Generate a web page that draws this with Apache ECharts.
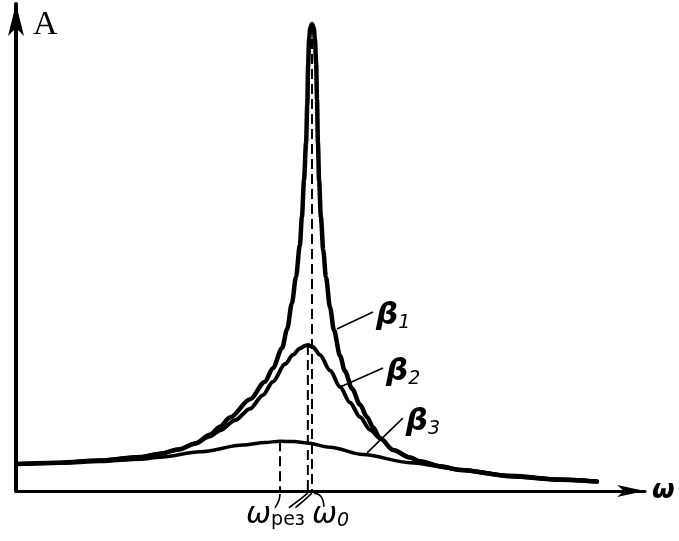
<!DOCTYPE html>
<html><head><meta charset="utf-8">
<script src="https://cdn.jsdelivr.net/npm/echarts@6/dist/echarts.min.js"></script>
<style>html,body{margin:0;padding:0;background:#fff}#c{width:679px;height:541px}</style>
</head><body><div id="c"></div>
<script>
// omega in units of omega0 ; A in units of static amplitude A(0)
const beta1Omega = [0,0.149,0.284,0.419,0.486,0.554,0.605,0.655,0.689,0.723,0.791,0.841,0.868,0.899,0.916,0.932,0.946,0.959,0.966,0.973,0.980,0.984,0.987,0.990,0.994,1.000,1.006,1.010,1.014,1.017,1.020,1.024,1.030,1.038,1.047,1.061,1.074,1.095,1.111,1.135,1.162,1.186,1.206,1.230,1.274,1.331,1.365,1.432,1.500,1.669,1.838,1.963];
const beta1A     = [1.00,1.05,1.13,1.26,1.38,1.55,1.76,2.08,2.38,2.72,3.40,4.05,4.55,5.30,6.00,6.95,7.93,9.11,10.15,11.52,12.90,14.30,15.80,16.70,17.15,17.30,17.15,16.70,15.85,14.48,12.90,11.50,10.15,8.93,7.93,6.80,5.96,5.00,4.45,3.80,3.20,2.74,2.36,1.95,1.52,1.24,1.10,0.92,0.78,0.55,0.42,0.35];
const beta2Omega = [0,0.149,0.284,0.419,0.486,0.554,0.605,0.655,0.689,0.740,0.791,0.834,0.868,0.909,0.936,0.959,0.976,0.986,1.003,1.027,1.061,1.095,1.128,1.162,1.196,1.230,1.274,1.331,1.365,1.432,1.500,1.669,1.838,1.963];
const beta2A     = [1.00,1.05,1.13,1.26,1.38,1.55,1.76,2.02,2.24,2.62,3.05,3.55,4.05,4.70,5.05,5.28,5.38,5.41,5.33,5.04,4.46,3.85,3.28,2.74,2.27,1.95,1.52,1.24,1.10,0.92,0.78,0.55,0.42,0.35];
const beta3Omega = [0,0.149,0.284,0.419,0.486,0.622,0.767,0.841,0.892,0.940,0.983,1.061,1.172,1.331,1.500,1.669,1.838,1.963];
const beta3A     = [1.00,1.03,1.09,1.18,1.25,1.45,1.70,1.80,1.84,1.83,1.78,1.62,1.35,1.05,0.80,0.58,0.44,0.35];
// resonance markers (dashed verticals): omega, top amplitude
const markOmega = [0.892, 0.986, 1.000];
const markTopA  = [1.84, 5.41, 17.30];
// labels of curves
const curveNames = ['β1','β2','β3'];
const labelSub   = ['1','2','3'];
// leader lines to curve labels: [omega, A] start and end
const leaderB1 = [[1.084,6.00],[1.206,6.63]];
const leaderB2 = [[1.095,3.85],[1.240,4.56]];
const leaderB3 = [[1.186,1.41],[1.307,2.70]];
// leader lines below the axis to ω_рез and ω0
const leaderRes  = [[0.892,-0.11],[0.888,-0.35],[0.875,-0.62]];
const leaderMidA = [[0.986,-0.08],[0.955,-0.35],[0.922,-0.62]];
const leaderMidB = [[1.000,-0.08],[0.975,-0.33],[0.944,-0.62]];
const leaderW0   = [[1.007,-0.08],[1.030,-0.20],[1.040,-0.58]];
const axisNames = {y:'A', x:'ω', res:'ω', resSub:'рез', zero:'ω', zeroSub:'0'};

const zip = (a,b)=>a.map((v,i)=>[v,b[i]]);
const black = '#000';
const chart = echarts.init(document.getElementById('c'));
const curve = (name, data, w) => ({
  type:'line', name, data, showSymbol:false, symbol:'none', smooth:0.3, smoothMonotone:'x',
  lineStyle:{color:black,width:w,cap:'round',join:'round'}, clip:false, z:5, silent:true
});
const thin = (data, extra) => Object.assign({
  type:'line', data, showSymbol:false, symbol:'none', clip:false, silent:true,
  lineStyle:{color:black,width:1.6}
}, extra||{});
const dashed = markOmega.map((w,i)=>thin([[w,markTopA[i]],[w,0]],{lineStyle:{color:black,width:2,type:[10,5]},z:3}));
const labelSeries = {
  type:'scatter', symbolSize:0, silent:true, clip:false,
  itemStyle:{opacity:1, color:black},
  data:[leaderB1[1],leaderB2[1],leaderB3[1]].map((p,i)=>({value:p, name:curveNames[i]})),
  label:{show:true, position:'right', distance:3, offset:[0,4], color:black, opacity:1,
    formatter:(p)=>'{b|β}{s|'+labelSub[p.dataIndex]+'}',
    rich:{
      b:{fontFamily:'DejaVu Sans',fontStyle:'italic',fontWeight:'bold',fontSize:31,color:black},
      s:{fontFamily:'DejaVu Sans',fontStyle:'italic',fontSize:19,color:black,padding:[14,0,0,0]}
    }}
};
chart.setOption({
  animation:false,
  backgroundColor:'#fff',
  grid:{left:16,right:34,top:4,bottom:50},
  xAxis:{type:'value',min:0,max:2.125,
    axisLine:{show:true,symbol:['none','arrow'],symbolSize:[9,28],lineStyle:{color:black,width:3}},
    axisTick:{show:false},axisLabel:{show:false},splitLine:{show:false}},
  yAxis:{type:'value',min:0,max:18.04,
    axisLine:{show:true,symbol:['none','arrow'],symbolSize:[12,32],lineStyle:{color:black,width:4}},
    axisTick:{show:false},axisLabel:{show:false},splitLine:{show:false}},
  series:[
    curve('β1',zip(beta1Omega,beta1A),4.5),
    curve('β2',zip(beta2Omega,beta2A),4),
    curve('β3',zip(beta3Omega,beta3A),3.5),
    ...dashed,
    thin(leaderB1),thin(leaderB2),thin(leaderB3),
    thin(leaderRes,{smooth:0.4}),thin(leaderMidA,{smooth:0.4}),thin(leaderMidB,{smooth:0.4}),thin(leaderW0,{smooth:0.5}),
    labelSeries
  ],
  graphic:[
    {type:'text',left:33,top:8,style:{text:axisNames.y,fontFamily:'Liberation Serif',fontSize:34,fill:black}},
    {type:'text',left:652,top:478,style:{text:axisNames.x,fontFamily:'DejaVu Sans',fontStyle:'italic',fontWeight:'bold',fontSize:26,fill:black}},
    {type:'text',left:246,top:500,style:{text:'{w|'+axisNames.res+'}{s|'+axisNames.resSub+'}',
      rich:{w:{fontFamily:'DejaVu Sans',fontStyle:'italic',fontSize:30,color:black},
            s:{fontFamily:'DejaVu Sans',fontSize:19,color:black,padding:[10,0,0,0]}}}},
    {type:'text',left:312,top:500,style:{text:'{w|'+axisNames.zero+'}{s|'+axisNames.zeroSub+'}',
      rich:{w:{fontFamily:'DejaVu Sans',fontStyle:'italic',fontSize:30,color:black},
            s:{fontFamily:'DejaVu Sans',fontStyle:'italic',fontSize:19,color:black,padding:[12,0,0,0]}}}}
  ]
});
</script></body></html>
